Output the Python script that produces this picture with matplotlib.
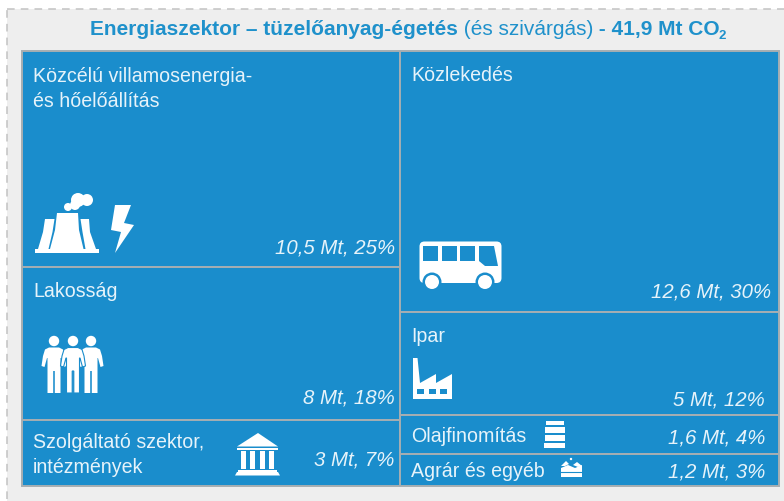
import matplotlib
matplotlib.use('Agg')
import matplotlib.pyplot as plt
from matplotlib.patches import Rectangle, Polygon, Circle, FancyBboxPatch

# datos del treemap
left_names = ['Közcélú villamosenergia-\nés hőelőállítás', 'Lakosság', 'Szolgáltató szektor,\nintézmények']
left_mt = ['10,5', '8', '3']
left_pct = [25, 18, 7]
left_heights = [216, 153, 66]

right_names = ['Közlekedés', 'Ipar', 'Olajfinomítás', 'Agrár és egyéb']
right_mt = ['12,6', '5', '1,6', '1,2']
right_pct = [30, 12, 4, 3]
right_heights = [261, 103, 39, 32]

BLUE = '#1a8dcc'
TITLE = '#1f91cb'
LINE = '#a6aeb2'
TXT = '#e6f3fa'
FONT = 'Liberation Sans'

fig = plt.figure(figsize=(7.84, 5.01), dpi=100, facecolor='white')
ax = fig.add_axes([0, 0, 1, 1])
ax.set_xlim(0, 784)
ax.set_ylim(501, 0)
ax.axis('off')

# fondo gris con borde punteado
ax.add_patch(Rectangle((7, 9), 790, 500, facecolor='#eeeeee', edgecolor='#c2c2c2',
                       lw=1.1, linestyle=(0, (5, 4))))


def poly(pts, color='white', z=5):
    ax.add_patch(Polygon(pts, closed=True, facecolor=color, edgecolor='none', zorder=z))


def rect(x0, y0, x1, y1, color='white', z=5):
    ax.add_patch(Rectangle((x0, y0), x1 - x0, y1 - y0, facecolor=color, edgecolor='none', zorder=z))


def circ(x, y, r, color='white', z=5):
    ax.add_patch(Circle((x, y), r, facecolor=color, edgecolor='none', zorder=z))


def draw_column(x0, x1, heights, top=51):
    y = top
    for h in heights:
        ax.add_patch(Rectangle((x0, y), x1 - x0, h, facecolor=BLUE, edgecolor=LINE, lw=1.4, zorder=2))
        y += h


draw_column(22, 400, left_heights)
draw_column(400, 779, right_heights)

# titulo en tres trozos
r = fig.canvas.get_renderer()
cur = 90
for s, w in [('Energiaszektor – tüzelőanyag-égetés', 'bold'), (' (és szivárgás)', 'normal'),
             (' - 41,9 Mt CO', 'bold')]:
    t = ax.text(cur, 35, s, color=TITLE, fontsize=15.0, fontweight=w, family=FONT, va='baseline', ha='left')
    cur = t.get_window_extent(r).x1
ax.text(cur - 1, 39, '2', color=TITLE, fontsize=9.5, fontweight='bold', family=FONT, va='baseline', ha='left')

# etiquetas
lab = dict(color=TXT, fontsize=14.1, family=FONT, va='baseline', ha='left', zorder=6)
val = dict(color=TXT, fontsize=14.7, family=FONT, style='italic', va='baseline', ha='right', zorder=6)

left_base = [[82, 107], [297], [448, 473]]
for name, bases in zip(left_names, left_base):
    for line, b in zip(name.split('\n'), bases):
        ax.text(33, b, line, **lab)
for mt, p, b, xr in zip(left_mt, left_pct, [254, 404, 465], [395, 395, 394]):
    ax.text(xr, b, f'{mt} Mt, {p}%', **val)

for name, b in zip(right_names, [81, 342, 442, 477]):
    ax.text(411, b, name, **lab)
for mt, p, b, xr in zip(right_mt, right_pct, [297, 405, 443, 477], [771, 765, 765, 765]):
    ax.text(xr, b, f'{mt} Mt, {p}%', **val)

# --- iconos ---
# torre de refrigeracion
poly([(45, 219), (54.5, 219), (52.5, 232), (48.5, 249), (38, 249), (43, 232)])
poly([(80.5, 219), (89, 219), (90, 232), (96, 249), (85.5, 249), (82.5, 232)])
poly([(57, 213), (78, 213), (79, 230), (83.5, 249), (50, 249), (55, 230)])
rect(35, 249, 99, 252.5)
for x, y, rr in [(68, 207, 4), (75, 205, 5), (78, 200, 7), (87, 200, 6)]:
    circ(x, y, rr)
# rayo
poly([(115, 205), (131, 205), (124, 223), (134, 225), (115, 253), (121, 232), (111, 230)])


# personas
def person_pts(cx):
    return [(cx - 5, 347.5), (cx + 5, 347.5), (cx + 9, 349.5), (cx + 11, 356), (cx + 12.5, 366), (cx + 9.5, 367),
            (cx + 7, 358), (cx + 6.5, 358), (cx + 6.5, 393), (cx + 0.8, 393), (cx + 0.8, 371), (cx - 0.8, 371),
            (cx - 0.8, 393), (cx - 6.5, 393), (cx - 6.5, 358), (cx - 7, 358), (cx - 9.5, 367), (cx - 12.5, 366),
            (cx - 11, 356), (cx - 9, 349.5)]


for cx in [54, 91]:
    circ(cx, 341, 5.2)
    poly(person_pts(cx))
ax.add_patch(Polygon(person_pts(73), closed=True, facecolor='white', edgecolor=BLUE, lw=0.8, zorder=6))
circ(73, 341, 5.2, z=6)

# edificio
poly([(258, 433), (278, 446.5), (237, 446.5)])
rect(237, 447.5, 278, 450)
for x in [241, 250, 260, 269]:
    rect(x, 451, x + 5.5, 469)
rect(238, 469.5, 277, 472)
poly([(237, 472), (278, 472), (280, 475.5), (235, 475.5)])

# autobus
ax.add_patch(FancyBboxPatch((421, 243), 79, 38.5, boxstyle='round,pad=1.5,rounding_size=5',
                            facecolor='white', edgecolor='none', zorder=5))
for x in [423, 442, 460]:
    rect(x, 246, x + 15, 261, BLUE, 6)
poly([(479, 246), (494, 246), (498, 266), (485, 266), (479, 261)], BLUE, 6)
for x in [432, 485]:
    circ(x, 282, 9.5, BLUE, 6)
    circ(x, 282, 7, 'white', 7)

# fabrica
poly([(413, 399), (413, 358), (417.5, 358), (420, 383), (436, 374), (436, 383), (452, 374), (452, 399)])
for x in [417, 429, 440]:
    rect(x, 389, x + 7, 394, BLUE, 6)

# barril
rect(546, 421, 564, 425)
rect(545, 426.5, 565, 433)
rect(545, 434.5, 565, 441)
rect(544, 442.5, 565, 448)

# icono agrar
poly([(561, 468), (568, 465), (575, 468), (582, 465), (582, 477), (561, 477)])
poly([(561, 466), (566, 461), (569, 464), (565, 466)])
poly([(573, 465), (577, 462), (582, 466), (578, 467)])
circ(571, 459, 1.2)
ax.plot([561, 582], [471.5, 471.5], color=BLUE, lw=0.8, zorder=6)

plt.savefig('out.png', dpi=100)
